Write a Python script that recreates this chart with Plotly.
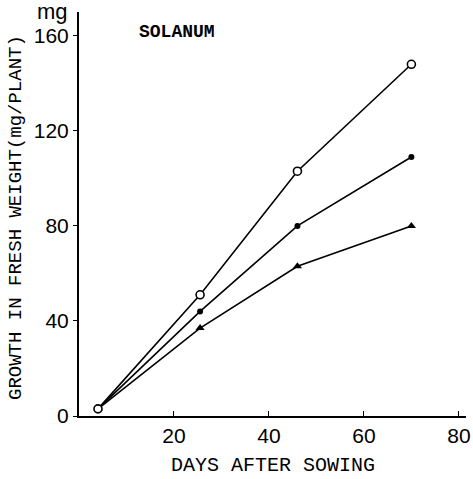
import plotly.graph_objects as go

days = [4, 25.5, 46, 70]
open_circle = [3, 51, 103, 148]
filled_circle = [3, 44, 80, 109]
triangle = [3, 37, 63, 80]

x_ticks = [20, 40, 60, 80]
y_ticks = [0, 40, 80, 120, 160]

fig = go.Figure()
line = dict(color="black", width=1.6)
fig.add_trace(go.Scatter(x=days, y=triangle, mode="lines+markers", line=line,
                         marker=dict(symbol="triangle-up", size=8, color="black")))
fig.add_trace(go.Scatter(x=days, y=filled_circle, mode="lines+markers", line=line,
                         marker=dict(symbol="circle", size=6, color="black")))
fig.add_trace(go.Scatter(x=days, y=open_circle, mode="lines+markers", line=line,
                         marker=dict(symbol="circle", size=8, color="white",
                                     line=dict(color="black", width=1.6))))

mono = "Liberation Mono"
sans = "Liberation Sans"
fig.update_layout(
    width=473, height=479,
    margin=dict(l=79, r=7, t=12, b=63),
    plot_bgcolor="white", paper_bgcolor="white",
    showlegend=False,
    xaxis=dict(range=[0, 81.5], tickvals=x_ticks, ticks="inside", ticklen=5,
               tickcolor="black", showgrid=False, zeroline=False, automargin=False,
               showline=True, linecolor="black", linewidth=2,
               tickfont=dict(family=sans, size=21, color="black")),
    yaxis=dict(range=[0, 170], tickvals=y_ticks, ticks="outside", ticklen=4,
               tickcolor="black", showgrid=False, zeroline=False, automargin=False,
               showline=True, linecolor="black", linewidth=2,
               tickfont=dict(family=sans, size=21, color="black")),
    annotations=[
        dict(text="mg", x=0, y=1.0, xref="paper", yref="paper", xanchor="right",
             yanchor="middle", xshift=-9, yshift=1, showarrow=False,
             font=dict(family=sans, size=22, color="black")),
        dict(text="<b>SOLANUM</b>", x=0, y=1.0, xref="paper", yref="paper",
             xanchor="left", yanchor="middle", xshift=58, yshift=-20,
             showarrow=False, font=dict(family=mono, size=18, color="black")),
        dict(text="DAYS AFTER SOWING", x=0.5, y=0, xref="paper", yref="paper",
             xanchor="center", yanchor="middle", yshift=-49, showarrow=False,
             font=dict(family=mono, size=20, color="black")),
        dict(text="GROWTH IN FRESH WEIGHT(mg/PLANT)", x=0, y=0.5, xref="paper",
             yref="paper", xanchor="center", yanchor="middle", xshift=-63,
             yshift=-4, textangle=-90, showarrow=False,
             font=dict(family=mono, size=19, color="black")),
    ],
)
fig.write_html("out.html",
               config={"displayModeBar": False},
               post_script="document.body.style.margin='0';"
                           "document.body.style.overflow='hidden';")
